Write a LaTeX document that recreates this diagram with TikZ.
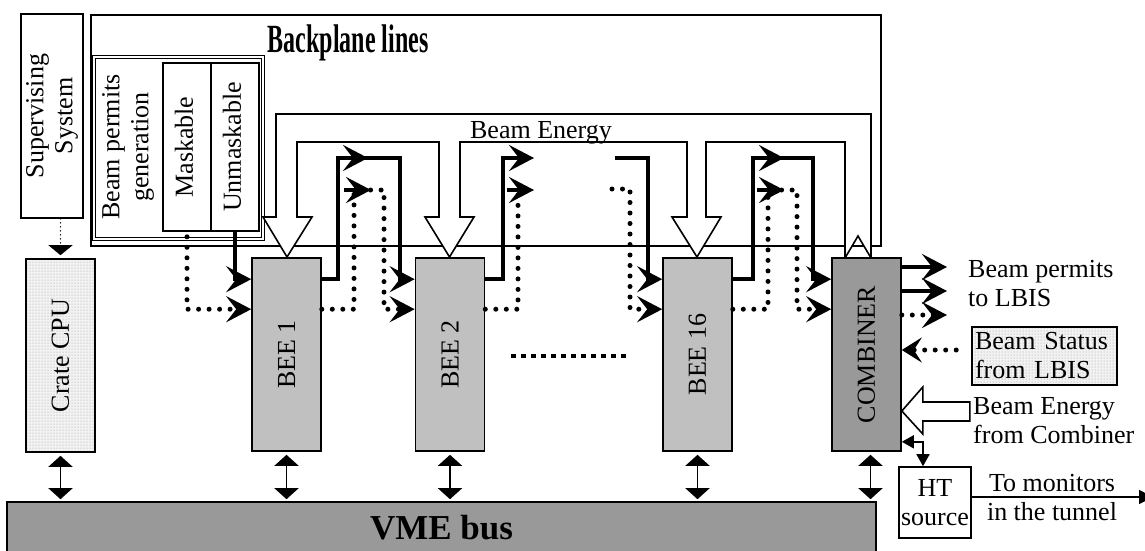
\documentclass[tikz,border=0pt]{standalone}
\usepackage{fontspec}
\setmainfont{Liberation Serif}
\usepackage{graphicx}
\usepackage{tikz}
\usetikzlibrary{arrows.meta,patterns}
\definecolor{beegray}{RGB}{192,192,192}
\definecolor{combgray}{RGB}{153,153,153}
\tikzset{
  txt/.style={font=\fontsize{26}{29}\selectfont,inner sep=0pt},
  plainbox/.style={draw,line width=1.6pt,fill=white,inner sep=0pt,
    font=\fontsize{26}{29}\selectfont},
  modulebox/.style={plainbox,fill=beegray,minimum width=69pt,minimum height=193pt},
  stipplebox/.style={plainbox,preaction={fill=black!5},pattern=dots,pattern color=black!40},
  thinline/.style={line width=1.6pt},
  permitline/.style={line width=4.5pt},
  maskline/.style={line width=5pt,line cap=round,dash pattern=on 0pt off 10.5pt},
  superline/.style={line width=1.6pt,line cap=round,dash pattern=on 0pt off 4pt},
  permittip/.style={-{Stealth[length=25pt,width=26pt,inset=10pt]}},
  tiponly/.style={permitline,permittip},
  busarrow/.style={thinline,{Triangle[length=11pt,width=24pt]}-{Triangle[length=11pt,width=24pt]},
    shorten <=3pt,shorten >=2pt},
  smallarrow/.style={thinline,{Triangle[length=12pt,width=13pt]}-{Triangle[length=12pt,width=13pt]}}
}

\begin{document}
\begin{tikzpicture}[x=1pt,y=-1pt]
  \useasboundingbox (0,0) rectangle (1145,550);

  \node[plainbox,minimum width=790pt,minimum height=231pt] (backplane) at (486,130.5) {};
  \node[anchor=base,inner sep=0pt,font=\fontsize{40}{44}\selectfont\bfseries] (bptitle)
    at (348,52) {\scalebox{0.6}[1]{Backplane lines}};

  \node[plainbox,double,line width=0.9pt,double distance=1.3pt,
    minimum width=169pt,minimum height=182pt] (bpgen) at (178.5,148) {};
  \node[txt] (bpgtxt) at (128,147)
    {\rotatebox{90}{\begin{tabular}{@{}c@{}}Beam permits\\generation\end{tabular}}};
  \node[plainbox,minimum width=48pt,minimum height=168pt] (mask) at (187,147)
    {\rotatebox{90}{\strut Maskable}};
  \node[plainbox,minimum width=48pt,minimum height=168pt] (unmask) at (235,147)
    {\rotatebox{90}{\strut Unmaskable}};

  \node[plainbox,minimum width=62pt,minimum height=204pt] (superv) at (52,116)
    {\rotatebox{90}{\begin{tabular}{@{}c@{}}Supervising\\System\end{tabular}}};

  \draw[thinline,fill=white] (276,217) -- (276,114) -- (871,114) -- (871,258)
    -- (858,236) -- (845,258) -- (845,142) -- (706,142) -- (706,217) -- (721,217)
    -- (697,257) -- (672,217) -- (687,217) -- (687,142) -- (460,142) -- (460,217)
    -- (474,217) -- (449.5,257) -- (425,217) -- (439,217) -- (439,142) -- (297,142)
    -- (297,217) -- (312,217) -- (287,257) -- (263,217) -- cycle;
  \node[txt,anchor=base] (energy) at (541,138) {Beam Energy};

  \node[stipplebox,minimum width=69pt,minimum height=193pt] (cpu) at (60.5,355.5)
    {\rotatebox{90}{Crate CPU}};
  \node[modulebox] (bee1) at (286.5,354.5) {\rotatebox{90}{BEE 1}};
  \node[modulebox] (bee2) at (450,354.5) {\rotatebox{90}{BEE 2}};
  \node[modulebox] (bee16) at (697.5,354.5) {\rotatebox{90}{BEE 16}};
  \node[modulebox,fill=combgray] (comb) at (866.5,354.5) {\rotatebox{90}{COMBINER}};

  \node[plainbox,fill=combgray,minimum width=869pt,minimum height=52pt,
    font=\fontsize{35}{40}\selectfont\bfseries] (vme) at (441.5,528) {VME bus};

  \draw[superline,-{Triangle[length=10pt,width=24pt]},shorten >=3pt]
    (superv.south -| cpu.north) -- (cpu.north);
  \draw[busarrow] (cpu.south) -- (cpu.south |- vme.north);
  \draw[busarrow] (bee1.south) -- (bee1.south |- vme.north);
  \draw[busarrow] (bee2.south) -- (bee2.south |- vme.north);
  \draw[busarrow] (bee16.south) -- (bee16.south |- vme.north);
  \draw[busarrow] ([xshift=4pt]comb.south) -- ([xshift=4pt]comb.south |- vme.north);

  \draw[permitline,permittip] (unmask.south) |- ([yshift=-22pt]bee1.north west);
  \draw[maskline,permittip,shorten <=5pt] (mask.south) |- ([yshift=-52pt]bee1.north west);

  \draw[permitline,permittip] ([yshift=-22pt]bee1.north east) -| (338,158) -- (400,158)
    |- ([yshift=-22pt]bee2.north west);
  \draw[tiponly] (338,158) -- (368,158);
  \draw[maskline,permittip] ([yshift=-52pt]bee1.north east) -| (354,190) -- (384,190)
    |- ([yshift=-52pt]bee2.north west);
  \draw[tiponly] (344,190) -- (371,190);

  \coordinate (cont1) at (534,158);
  \coordinate (cont2) at (534,190);
  \draw[permitline,permittip] ([yshift=-22pt]bee2.north east) -| (503,158) -- (cont1);
  \draw[maskline] ([yshift=-52pt]bee2.north east) -| (518,190);
  \draw[tiponly] ([xshift=-27pt]cont2) -- (cont2);

  \coordinate (resume1) at (615,158);
  \coordinate (resume2) at (612,189);
  \draw[permitline,permittip] (resume1) -- (648,158) |- ([yshift=-22pt]bee16.north west);
  \draw[maskline,permittip] (resume2) -- (630,189) |- ([yshift=-52pt]bee16.north west);

  \draw[permitline,permittip] ([yshift=-22pt]bee16.north east) -| (753,158) -- (813,158)
    |- ([yshift=-22pt]comb.north west);
  \draw[tiponly] (753,158) -- (784,158);
  \draw[maskline,permittip] ([yshift=-52pt]bee16.north east) -| (768,190) -- (797,190)
    |- ([yshift=-52pt]comb.north west);
  \draw[tiponly] (757,190) -- (784,190);

  \draw[line width=4pt,dash pattern=on 5pt off 5pt] (511,356) -- (630,356);

  \node[txt,anchor=west,align=left] (permtxt) at (968,284) {Beam permits\\to LBIS};
  \coordinate (lbis1) at (947,267);
  \coordinate (lbis2) at (947,291);
  \coordinate (lbis3) at (947,315);
  \draw[permitline,permittip] (comb.east |- lbis1) -- (lbis1);
  \draw[permitline,permittip] (comb.east |- lbis2) -- (lbis2);
  \draw[maskline,permittip] (comb.east |- lbis3) -- (lbis3);

  \node[stipplebox,text width=139pt,inner xsep=3pt,inner ysep=2pt,minimum height=58pt,
    align=left] (bstat) at (1044.5,356) {Beam Status\\from LBIS};
  \draw[maskline,-{Stealth[length=20pt,width=25pt,inset=8pt]}]
    ([xshift=-15pt,yshift=6pt]bstat.west) -- (comb.east |- 0,350);

  \node[txt,anchor=west,align=left] (energytxt) at (973,421) {Beam Energy\\from Combiner};
  \draw[thinline,fill=white] ([yshift=-56.5pt]comb.east) -- ++(21,-24) -- ++(0,15)
    -- ++(47,0) -- ++(0,19) -- ++(-47,0) -- ++(0,13) -- cycle;

  \node[plainbox,minimum width=72pt,minimum height=71pt,align=center] (ht) at (935,502.5)
    {HT\\source};
  \draw[smallarrow] ([yshift=10pt]comb.south east) -| ([xshift=-12pt]ht.north);
  \coordinate (tunnel) at (1153,497);
  \draw[thinline,-{Triangle[length=14pt,width=14pt]}] (ht.east |- tunnel) -- (tunnel);
  \node[txt,align=center] (tunneltxt) at (1052,498) {To monitors\\in the tunnel};
\end{tikzpicture}
\end{document}
